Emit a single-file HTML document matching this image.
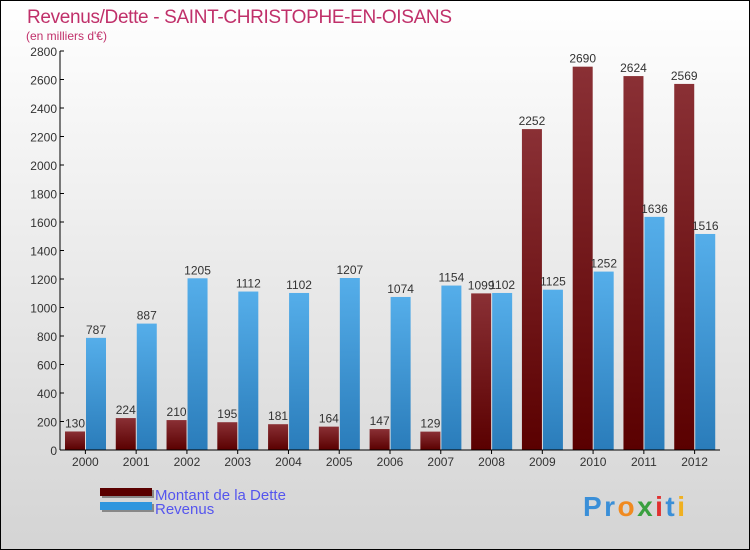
<!DOCTYPE html>
<html><head><meta charset="utf-8"><style>
body{margin:0}
svg{display:block;font-family:"Liberation Sans",sans-serif}
</style></head><body>
<svg width="750" height="550" viewBox="0 0 750 550">
<defs>
<linearGradient id="bg" x1="0" y1="0" x2="0" y2="1"><stop offset="0" stop-color="#ffffff"/><stop offset="1" stop-color="#d4d4d4"/></linearGradient>
<linearGradient id="gd" x1="0" y1="0" x2="0" y2="1"><stop offset="0" stop-color="#8a3035"/><stop offset="1" stop-color="#5a0000"/></linearGradient>
<linearGradient id="gr" x1="0" y1="0" x2="0" y2="1"><stop offset="0" stop-color="#55aeea"/><stop offset="1" stop-color="#2a7cba"/></linearGradient>
</defs>
<rect x="0.5" y="0.5" width="749" height="549" fill="url(#bg)" stroke="#000"/>
<text x="27" y="23" font-size="19" fill="#c0306a" textLength="425">Revenus/Dette - SAINT-CHRISTOPHE-EN-OISANS</text>
<text x="26" y="40" font-size="12" fill="#c0306a">(en milliers d'€)</text>
<g id="plot"></g>
<g>
<rect x="102" y="490" width="52" height="8" fill="#888"/><rect x="100" y="488" width="52" height="8" fill="#5a0000"/>
<text x="155" y="500" font-size="15" fill="#5555ee">Montant de la Dette</text>
<rect x="102" y="504" width="52" height="8" fill="#888"/><rect x="100" y="502" width="52" height="8" fill="#2f96de"/>
<text x="155" y="514" font-size="15" fill="#5555ee">Revenus</text>
</g>
<text x="583" y="516" font-size="28" font-weight="bold" textLength="102"><tspan fill="#3a8fd8">Pr</tspan><tspan fill="#f08a20">o</tspan><tspan fill="#3aa040">x</tspan><tspan fill="#e03030">i</tspan><tspan fill="#3a8fd8">t</tspan><tspan fill="#f0b020">i</tspan></text>
</svg>
<script>
const years=["2000","2001","2002","2003","2004","2005","2006","2007","2008","2009","2010","2011","2012"];
const dette=[130,224,210,195,181,164,147,129,1099,2252,2690,2624,2569];
const revenus=[787,887,1205,1112,1102,1207,1074,1154,1102,1125,1252,1636,1516];
const yTicks=[0,200,400,600,800,1000,1200,1400,1600,1800,2000,2200,2400,2600,2800];
const NS="http://www.w3.org/2000/svg";
const g=document.getElementById('plot');
const x0=60,x1=720,yb=450,yt=51,ymax=2800;
const band=(x1-x0)/years.length;
const y=v=>yb-(v/ymax)*(yb-yt);
function mk(t,a,p){const e=document.createElementNS(NS,t);for(const k in a)e.setAttribute(k,a[k]);(p||g).appendChild(e);return e;}
yTicks.forEach(v=>{
 const l=mk('line',{x1:x0,x2:x0+4,y1:y(v),y2:y(v),stroke:'#000'});
 
 
 const t=mk('text',{x:x0-3,y:y(v)+5,'font-size':12,fill:'#333','text-anchor':'end'});
 t.textContent=v;
 
 
});
years.forEach((yr,i)=>{
 const bx=x0+i*band;
 const hd=yb-y(dette[i]);
 const r1=mk('rect',{x:bx+5,y:y(dette[i]),width:20,height:hd,fill:'url(#gd)'});
 
 
 const r2=mk('rect',{x:bx+26,y:y(revenus[i]),width:20,height:yb-y(revenus[i]),fill:'url(#gr)'});
 
 
 const t1=mk('text',{x:bx+15,y:y(dette[i])-4,'font-size':12,fill:'#333','text-anchor':'middle'});
 t1.textContent=dette[i];
 
 
 const t2=mk('text',{x:bx+36,y:y(revenus[i])-4,'font-size':12,fill:'#333','text-anchor':'middle'});
 t2.textContent=revenus[i];
 
 
 const tk=mk('line',{x1:bx+band/2,x2:bx+band/2,y1:yb,y2:yb+4,stroke:'#000'});
 
 
 const xl=mk('text',{x:bx+band/2,y:yb+16,'font-size':12,fill:'#333','text-anchor':'middle'});
 xl.textContent=yr;
 
 
});
const ax=mk('line',{x1:x0,x2:x0,y1:yt,y2:yb,stroke:'#000'});


const axx=mk('line',{x1:x0,x2:x1,y1:yb,y2:yb,stroke:'#000'});


</script>
</body></html>
